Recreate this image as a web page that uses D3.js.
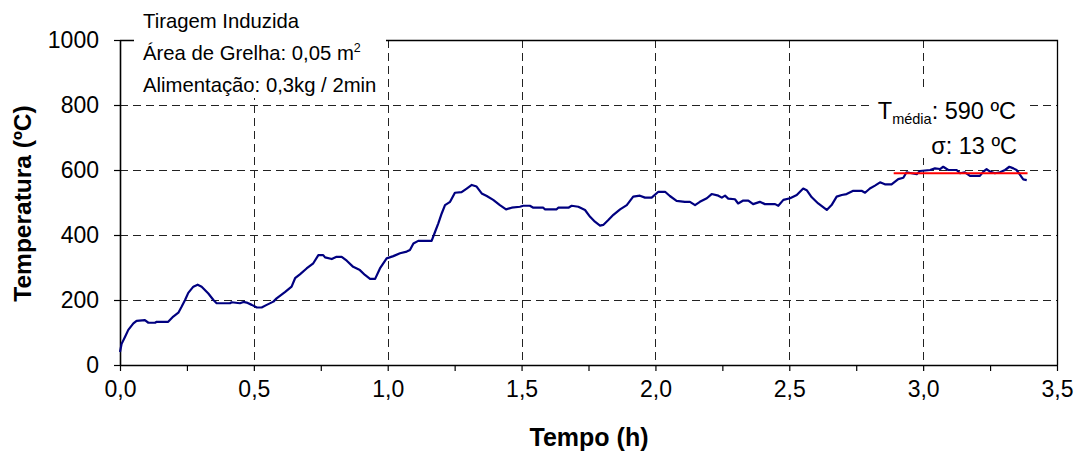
<!DOCTYPE html>
<html>
<head>
<meta charset="utf-8">
<script src="https://cdn.jsdelivr.net/npm/d3@7"></script>
<style>
  html, body { margin: 0; padding: 0; background: #fff; }
  svg { display: block; font-family: "Liberation Sans", Arial, sans-serif; }
</style>
</head>
<body>
<svg id="chart" width="1078" height="461"></svg>
<script>
// Furnace temperature record (time in hours, temperature in ºC)
const timeH = [
  0.000, 0.006, 0.019, 0.031, 0.050, 0.062, 0.093, 0.106, 0.131, 0.137,
  0.180, 0.199, 0.218, 0.230, 0.243, 0.255, 0.274, 0.290, 0.305, 0.330,
  0.349, 0.361, 0.411, 0.417, 0.448, 0.461, 0.473, 0.492, 0.511, 0.529,
  0.548, 0.573, 0.585, 0.616, 0.641, 0.654, 0.672, 0.697, 0.722, 0.741,
  0.759, 0.766, 0.791, 0.809, 0.828, 0.847, 0.871, 0.896, 0.915, 0.934,
  0.953, 0.971, 0.996, 1.021, 1.046, 1.071, 1.083, 1.096, 1.114, 1.164,
  1.177, 1.189, 1.202, 1.214, 1.233, 1.251, 1.276, 1.295, 1.314, 1.332,
  1.351, 1.370, 1.394, 1.419, 1.442, 1.463, 1.494, 1.506, 1.531, 1.544,
  1.581, 1.587, 1.631, 1.637, 1.675, 1.687, 1.712, 1.737, 1.756, 1.774,
  1.793, 1.805, 1.824, 1.843, 1.868, 1.893, 1.917, 1.942, 1.961, 1.986,
  2.011, 2.036, 2.054, 2.079, 2.110, 2.129, 2.148, 2.166, 2.192, 2.210,
  2.235, 2.248, 2.260, 2.272, 2.297, 2.309, 2.328, 2.347, 2.365, 2.390,
  2.409, 2.447, 2.459, 2.478, 2.503, 2.528, 2.552, 2.565, 2.584, 2.608,
  2.640, 2.658, 2.677, 2.696, 2.714, 2.739, 2.770, 2.783, 2.801, 2.820,
  2.839, 2.857, 2.882, 2.907, 2.926, 2.938, 2.957, 2.976, 2.988, 3.026,
  3.044, 3.063, 3.075, 3.094, 3.125, 3.138, 3.156, 3.175, 3.212, 3.225,
  3.237, 3.250, 3.268, 3.287, 3.306, 3.322, 3.337, 3.349, 3.362, 3.374,
  3.387
];
const temperature = [
   40,  65,  87, 108, 128, 136, 138, 130, 130, 133,
  133, 149, 161, 179, 200, 222, 241, 247, 241, 220,
  200, 190, 190, 193, 190, 194, 192, 185, 177, 177,
  185, 195, 205, 224, 241, 267, 279, 297, 313, 338,
  338, 331, 326, 333, 333, 321, 302, 292, 277, 265,
  265, 297, 328, 335, 344, 349, 354, 374, 382, 382,
  410, 436, 467, 492, 502, 530, 532, 543, 554, 549,
  528, 520, 508, 492, 479, 484, 487, 490, 490, 484,
  484, 479, 479, 484, 484, 490, 487, 477, 456, 441,
  429, 431, 446, 462, 479, 492, 518, 521, 515, 515,
  533, 533, 520, 505, 502, 502, 492, 502, 513, 526,
  521, 515, 521, 512, 510, 497, 506, 506, 495, 502,
  495, 495, 490, 508, 513, 523, 543, 538, 516, 497,
  477, 492, 518, 523, 526, 536, 536, 530, 543, 552,
  562, 556, 556, 572, 576, 593, 590, 587, 597, 600,
  605, 603, 610, 600, 600, 590, 593, 582, 582, 595,
  603, 595, 590, 593, 600, 610, 605, 600, 585, 571,
  569
];

// Mean temperature over the steady period
const meanTemp = 590;
const meanStart = 2.89;
const meanEnd = 3.39;

const xTickValues = [0, 0.5, 1.0, 1.5, 2.0, 2.5, 3.0, 3.5];
const xMinorTicks = [0.25, 0.75, 1.25, 1.75, 2.25, 2.75, 3.25];
const yTickValues = [0, 200, 400, 600, 800, 1000];

const infoLines = ["Tiragem Induzida", "Área de Grelha: 0,05 m", "Alimentação: 0,3kg / 2min"];

const svg = d3.select("#chart");
const plotL = 120, plotR = 1057, plotT = 40, plotB = 365;

const x = d3.scaleLinear().domain([0, 3.5]).range([plotL, plotR]);
const y = d3.scaleLinear().domain([0, 1000]).range([plotB, plotT]);
const fmt = d => d3.format(".1f")(d).replace(".", ",");

// Dashed grid
const grid = svg.append("g").attr("stroke", "#222").attr("stroke-width", 1)
  .attr("stroke-dasharray", "8,5");
grid.selectAll("line.h").data(yTickValues.filter(v => v > 0 && v < 1000)).join("line")
  .attr("class", "h")
  .attr("x1", plotL).attr("x2", plotR)
  .attr("y1", d => Math.round(y(d)) + 0.5).attr("y2", d => Math.round(y(d)) + 0.5);
grid.selectAll("line.v").data(xTickValues.filter(v => v > 0 && v < 3.5)).join("line")
  .attr("class", "v")
  .attr("y1", plotT).attr("y2", plotB)
  .attr("x1", d => Math.round(x(d)) + 0.5).attr("x2", d => Math.round(x(d)) + 0.5);

// Plot frame (top and right)
svg.append("path")
  .attr("d", `M${plotL},${plotT + 0.5}H${plotR + 0.5}V${plotB}`)
  .attr("fill", "none").attr("stroke", "#000").attr("stroke-width", 1.3);

// Axes
const xAxis = d3.axisBottom(x).tickValues(xTickValues.concat(xMinorTicks).sort((a, b) => a - b))
  .tickSize(6).tickFormat(d => xTickValues.includes(d) ? fmt(d) : "");
const gx = svg.append("g").attr("transform", `translate(0,${plotB})`).call(xAxis);
gx.select(".domain").attr("stroke-width", 1.6).attr("d", `M${plotL},0.5H${plotR + 0.5}`);
gx.selectAll(".tick line").attr("stroke-width", 1.2);
gx.selectAll(".tick text").attr("font-size", 23).attr("fill", "#000").attr("y", 12).attr("dy", "0.85em")
  .attr("font-family", "Liberation Sans, Arial, sans-serif");

const yAxis = d3.axisLeft(y).tickValues(yTickValues).tickSize(6).tickFormat(d3.format("d"));
const gy = svg.append("g").attr("transform", `translate(${plotL},0)`).call(yAxis);
gy.select(".domain").attr("stroke-width", 1.6).attr("d", `M0.5,${plotB + 0.5}V${plotT}`);
gy.selectAll(".tick line").attr("stroke-width", 1.2);
gy.selectAll(".tick text").attr("font-size", 23).attr("fill", "#000").attr("x", -21)
  .attr("font-family", "Liberation Sans, Arial, sans-serif");

// Temperature curve
const series = timeH.map((t, i) => [t, temperature[i]]);
svg.append("path")
  .datum(series)
  .attr("fill", "none")
  .attr("stroke", "#000080")
  .attr("stroke-width", 2.2)
  .attr("stroke-linejoin", "round")
  .attr("d", d3.line().x(d => x(d[0])).y(d => y(d[1])));

// Mean temperature line
svg.append("line")
  .attr("x1", x(meanStart)).attr("x2", x(meanEnd))
  .attr("y1", y(meanTemp)).attr("y2", y(meanTemp))
  .attr("stroke", "#ff0000").attr("stroke-width", 2.2);

// Axis titles
svg.append("text")
  .attr("x", 589).attr("y", 446)
  .attr("text-anchor", "middle").attr("font-size", 25).attr("font-weight", "bold")
  .text("Tempo (h)");
svg.append("text")
  .attr("transform", `translate(31,${(plotT + plotB) / 2 + 1}) rotate(-90)`)
  .attr("text-anchor", "middle").attr("font-size", 24.5).attr("font-weight", "bold")
  .text("Temperatura (ºC)");

// Test conditions box
svg.append("rect").attr("x", 134).attr("y", 3).attr("width", 252).attr("height", 95).attr("fill", "#fff");
const info = svg.append("g").attr("font-size", 20.3);
info.selectAll("text").data(infoLines).join("text")
  .attr("x", 143).attr("y", (d, i) => 28 + i * 32)
  .text(d => d);
info.select("text:nth-child(2)").append("tspan")
  .attr("font-size", 12.5).attr("dy", -8).text("2");

// Mean / standard deviation box
svg.append("rect").attr("x", 872).attr("y", 88).attr("width", 154).attr("height", 70).attr("fill", "#fff");
const stats = svg.append("g").attr("font-size", 23.5);
const t1 = stats.append("text").attr("x", 1016).attr("y", 119).attr("text-anchor", "end");
t1.append("tspan").text("T");
t1.append("tspan").attr("font-size", 14.5).attr("dy", 5).text("média");
t1.append("tspan").attr("dy", -5).text(`: ${meanTemp} ºC`);
stats.append("text").attr("x", 1017).attr("y", 154).attr("text-anchor", "end")
  .text("σ: 13 ºC");
</script>
</body>
</html>
